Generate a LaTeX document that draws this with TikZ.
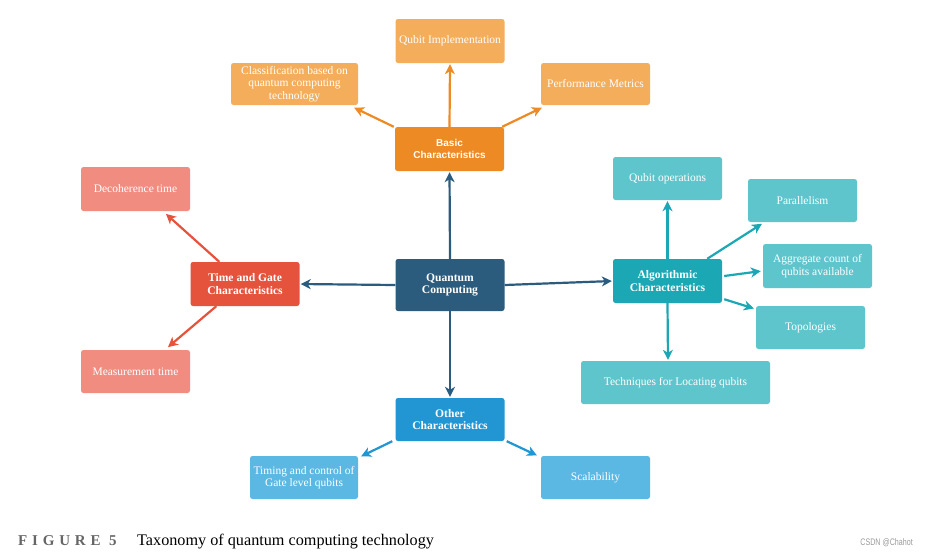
\documentclass[tikz,border=0pt]{standalone}
\usepackage{fontspec}
\setmainfont{Liberation Serif}
\newfontfamily\capsans{Liberation Sans}
\usetikzlibrary{arrows.meta,calc}
\definecolor{orleaf}{HTML}{F3AD5B}
\definecolor{ormain}{HTML}{EE8A24}
\definecolor{rdleaf}{HTML}{F08C80}
\definecolor{rdmain}{HTML}{E5533D}
\definecolor{qcmain}{HTML}{2B5B7D}
\definecolor{tlleaf}{HTML}{5EC5CC}
\definecolor{tlmain}{HTML}{1BA7B3}
\definecolor{blleaf}{HTML}{5BB8E3}
\definecolor{blmain}{HTML}{2196D3}
\definecolor{figgrey}{HTML}{666666}
\definecolor{wmgrey}{HTML}{9A9A9A}
\tikzset{
  box/.style={rounded corners=2.5pt, minimum width=109pt, minimum height=44pt,
    inner sep=1pt, align=center, text=white, font=\fontsize{11.5}{12.5}\selectfont,
    execute at begin node={\vspace*{1.5pt}}},
  mainbox/.style={box, font=\fontsize{11.6}{12.8}\selectfont\bfseries},
  arr/.style={draw=#1, line width=2.2pt, -{Stealth[length=10pt,width=10pt,inset=3pt]}, shorten >=1pt}
}
\begin{document}
\begin{tikzpicture}[x=1pt,y=-1pt]
\useasboundingbox[fill=white] (0,0) rectangle (928,557);

% Basic characteristics branch
\node[box, fill=orleaf] (qimpl) at (450,41) {Qubit Implementation};
\node[box, fill=orleaf, minimum width=127pt, minimum height=42pt] (class) at (294.5,84) {Classification based on\\quantum computing\\technology};
\node[box, fill=orleaf, minimum height=42pt] (perf) at (595.5,84) {Performance Metrics};
\node[box, fill=ormain, font=\capsans\fontsize{10}{11.5}\selectfont\bfseries] (basic) at (449.5,149) {Basic\\Characteristics};

% Time and gate branch
\node[box, fill=rdleaf] (decoh) at (135.5,189) {Decoherence time};
\node[mainbox, fill=rdmain] (time) at (245,284) {Time and Gate\\Characteristics};
\node[box, fill=rdleaf, minimum height=43pt] (meas) at (135.5,371.5) {Measurement time};

% Centre
\node[mainbox, fill=qcmain, minimum height=52pt] (qc) at (450,285) {Quantum\\Computing};

% Algorithmic branch
\node[box, fill=tlleaf, minimum height=43pt] (qops) at (667.5,178.5) {Qubit operations};
\node[box, fill=tlleaf, minimum height=43pt] (par) at (802.5,200.5) {Parallelism};
\node[box, fill=tlleaf] (agg) at (817.5,266) {Aggregate count of\\qubits available};
\node[mainbox, fill=tlmain] (algo) at (667.5,281) {Algorithmic\\Characteristics};
\node[box, fill=tlleaf, minimum height=43pt] (topo) at (810.5,327.5) {Topologies};
\node[box, fill=tlleaf, minimum width=189pt, minimum height=43pt] (tech) at (675.5,382.5) {Techniques for Locating qubits};

% Other branch
\node[mainbox, fill=blmain, minimum height=43pt] (other) at (450,419.5) {Other\\Characteristics};
\node[box, fill=blleaf, minimum width=108pt, minimum height=43pt] (timing) at (304,477.5) {Timing and control of\\Gate level qubits};
\node[box, fill=blleaf, minimum height=43pt] (scal) at (595.5,477.5) {Scalability};

% Arrows from centre
\draw[arr=qcmain] (qc.north) -- (basic.south);
\draw[arr=qcmain] (qc.west) -- (time.east);
\draw[arr=qcmain] (qc.east) -- (algo.west);
\draw[arr=qcmain] (qc.south) -- (other.north);

% Basic arrows
\draw[arr=ormain] (basic.north) -- (qimpl.south);
\draw[arr=ormain] ([xshift=-1pt]basic.north west) -- ([xshift=-5pt,yshift=-2pt]class.south east);
\draw[arr=ormain] ([xshift=-2pt]basic.north east) -- ([xshift=2pt,yshift=-2pt]perf.south west);

% Time arrows
\draw[arr=rdmain] ([xshift=29pt]time.north west) -- ([xshift=-25pt,yshift=-2pt]decoh.south east);
\draw[arr=rdmain] ([xshift=26pt]time.south west) -- ([xshift=-23pt,yshift=2pt]meas.north east);

% Algorithmic arrows
\draw[arr=tlmain] (algo.north) -- (qops.south);
\draw[arr=tlmain] ([xshift=-15pt]algo.north east) -- ([xshift=15pt,yshift=-1pt]par.south west);
\draw[arr=tlmain] ([xshift=2pt,yshift=5pt]algo.east) -- ([xshift=-1pt,yshift=-5pt]agg.west);
\draw[arr=tlmain] ([xshift=2pt,yshift=4pt]algo.south east) -- ([xshift=-1pt,yshift=-3pt]topo.north west);
\draw[arr=tlmain] (algo.south) -- ([xshift=-7.5pt]tech.north);

% Other arrows
\draw[arr=blmain] ([xshift=-3pt]other.south west) -- ([xshift=2pt,yshift=-1pt]timing.north east);
\draw[arr=blmain] ([xshift=2pt]other.south east) -- ([xshift=-3pt]scal.north west);

% Caption
\node[anchor=base west, inner sep=0, text=figgrey, font=\fontsize{15}{16}\selectfont\bfseries\addfontfeatures{LetterSpace=32}] (fig) at (18,545) {FIGURE 5};
\node[anchor=base west, inner sep=0, font=\fontsize{16.2}{17}\selectfont] (capt) at (137,545) {Taxonomy of quantum computing technology};
\node[anchor=base east, inner sep=0, text=wmgrey, font=\capsans\fontsize{9.5}{10}\selectfont] (wm) at (913,545) {\scalebox{0.75}[1]{CSDN @Chahot}};
\end{tikzpicture}
\end{document}
